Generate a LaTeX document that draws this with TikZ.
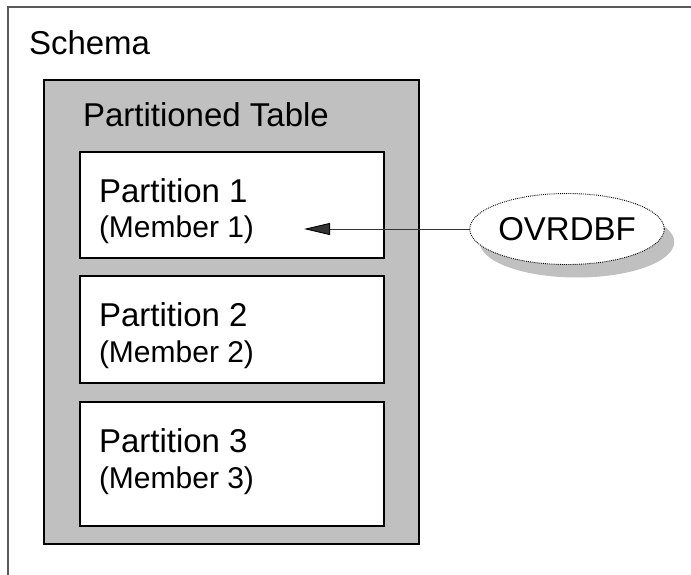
\documentclass[tikz,border=0pt]{standalone}
\usepackage{fontspec}
\setmainfont{Liberation Sans}
\usetikzlibrary{arrows.meta, shapes, shadows}
\definecolor{tablegray}{RGB}{192,192,192}
\definecolor{framegray}{RGB}{90,90,90}

\begin{document}
\begin{tikzpicture}[x=1pt, y=-1pt]
	\tikzstyle{every node} = [inner sep=0pt, outer sep=0pt]
	\tikzstyle{box} = [rectangle, anchor=north west, draw=black, line width=1.2pt]
	\tikzstyle{big} = [anchor=base west, font=\fontsize{33}{36}\selectfont]
	\tikzstyle{small} = [anchor=base west, font=\fontsize{30}{33}\selectfont]
	\useasboundingbox (0,0) rectangle (691,575);
	\node[box, draw=framegray, fill=white, minimum width=700pt, minimum height=590pt] (schema) at (8,7) {};
	\node[big] (schema_lbl) at (29,55) {Schema};
	\node[box, fill=tablegray, minimum width=375pt, minimum height=464pt] (table) at (44,80) {};
	\node[big] (table_lbl) at (83,127) {Partitioned Table};
	\node[box, fill=white, minimum width=304pt, minimum height=106pt] (part1) at (80,152) {};
	\node[box, fill=white, minimum width=304pt, minimum height=107pt] (part2) at (80,276) {};
	\node[box, fill=white, minimum width=304pt, minimum height=124pt] (part3) at (80,402) {};
	\node[big] (part1_lbl) at (99,202) {Partition 1};
	\node[small] (mem1_lbl) at (99,237) {(Member 1)};
	\node[big] (part2_lbl) at (99,326) {Partition 2};
	\node[small] (mem2_lbl) at (99,362) {(Member 2)};
	\node[big] (part3_lbl) at (99,452) {Partition 3};
	\node[small] (mem3_lbl) at (99,488) {(Member 3)};
	
	%Override file with its shadow
	\node[ellipse, draw=black, densely dotted, fill=white, line width=0.9pt, minimum width=183pt, minimum height=71pt,
		drop shadow={shadow xshift=10pt, shadow yshift=-13pt, fill=tablegray, opacity=1},
		font=\fontsize{33}{36}\selectfont] (ovrdbf) at (567,229) {OVRDBF};
	\coordinate (tip) at (304,229);
	\draw[line width=0.9pt, color=black!80]
	(ovrdbf.west) edge[-{Triangle[length=26pt, width=12pt, color=black]}] (tip)
	;
\end{tikzpicture}
\end{document}
